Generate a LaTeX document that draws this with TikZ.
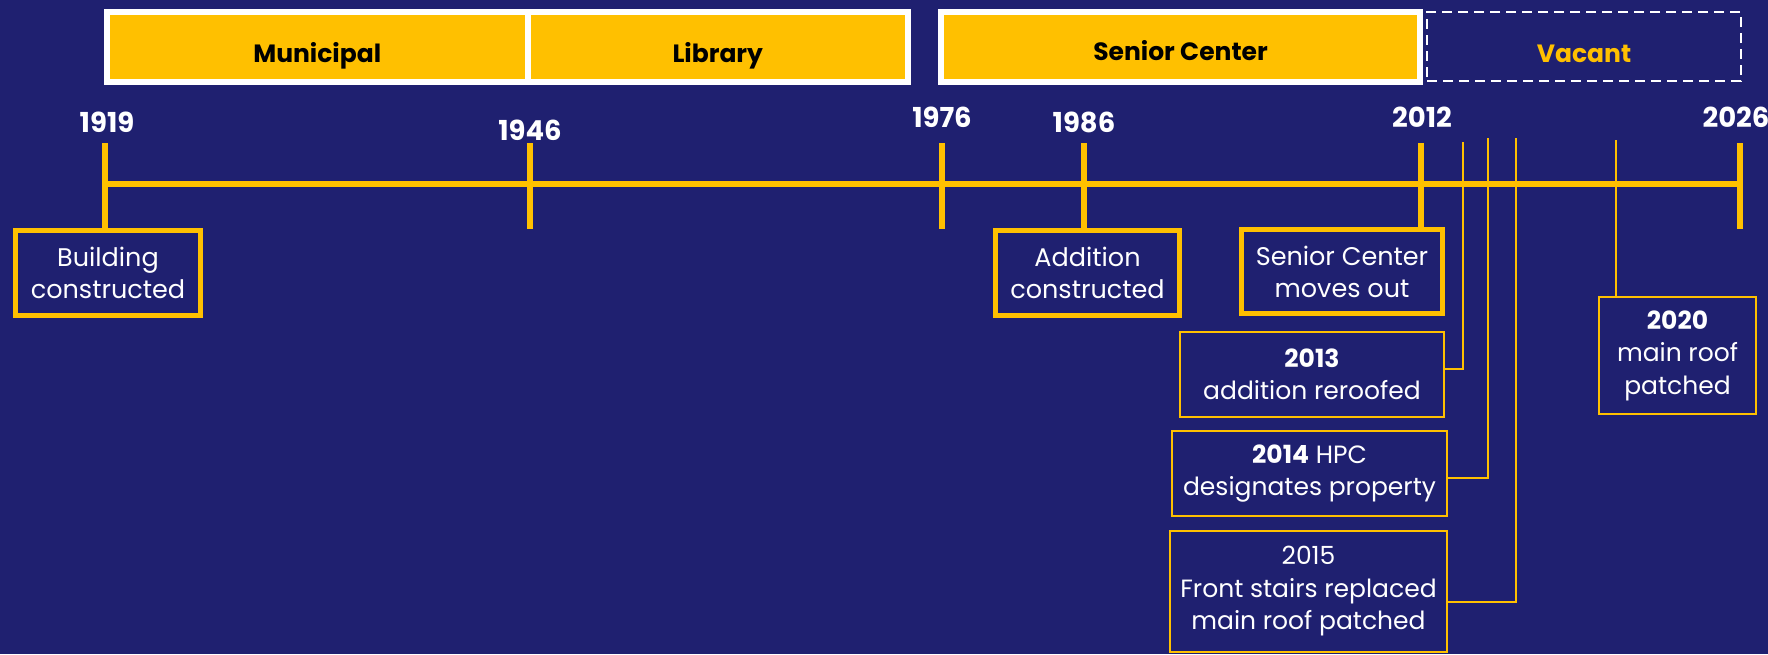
\documentclass[tikz,border=0pt]{standalone}
\usepackage{fontspec}
\setmainfont{Poppins}
\usetikzlibrary{calc}
\definecolor{navy}{RGB}{31,32,112}
\definecolor{gold}{RGB}{255,192,0}

\begin{document}
\begin{tikzpicture}[x=1pt, y=-1pt, text=white,
  bar/.style={draw=white, line width=6pt, fill=gold, text=black, inner sep=0pt,
    minimum height=70pt, text height=30pt, text depth=0pt,
    font=\fontsize{25}{30}\selectfont\bfseries},
  emptybar/.style={draw=white, line width=2.5pt, dash pattern=on 10pt off 6pt,
    text=gold, inner sep=0pt, minimum height=69pt, text height=32pt, text depth=0pt,
    font=\fontsize{25}{30}\selectfont\bfseries},
  year/.style={inner sep=0pt, font=\fontsize{27.5}{30}\selectfont\bfseries},
  event/.style={draw=gold, line width=5pt, fill=navy, align=center, inner sep=0pt,
    minimum height=85pt, font=\fontsize{25.5}{32}\selectfont},
  note/.style={draw=gold, line width=1.5pt, align=center, inner sep=0pt,
    font=\fontsize{25}{32.5}\selectfont},
  axis/.style={draw=gold, line width=5.5pt},
  lead/.style={draw=gold, line width=2.5pt}]

  % canvas
  \fill[navy] (0,0) rectangle (1768,654);
  \useasboundingbox (0,0) rectangle (1768,654);

  % use bars
  \node[bar, minimum width=420.5pt] (municipal) at (317.25,47) {Municipal};
  \node[bar, minimum width=380.5pt] (library)   at (717.75,47) {Library};
  \node[bar, minimum width=479pt, text height=26pt] (senior) at (1180.5,47) {Senior Center};
  \node[emptybar, minimum width=314pt] (vacant) at (1584,46.5) {Vacant};

  % years
  \node[year] (y1919) at (107,122) {1919};
  \node[year] (y1946) at (530,130) {1946};
  \node[year] (y1976) at (942,117) {1976};
  \node[year] (y1986) at (1084,122) {1986};
  \node[year] (y2012) at (1422,117) {2012};
  \node[year] (y2026) at (1736,117) {2026};

  % milestones
  \node[event, minimum width=185pt] (built)  at (108,273)    {Building\\constructed};
  \node[event, minimum width=184pt] (added)  at (1087.5,273) {Addition\\constructed};
  \node[event, minimum width=201pt, minimum height=84pt] (moved) at (1342,271.5) {Senior Center\\moves out};

  \node[note, minimum width=264pt, minimum height=85pt]  (e2013) at (1312,374.5)   {\textbf{2013}\\addition reroofed};
  \node[note, minimum width=275pt, minimum height=85pt]  (e2014) at (1309.5,473.5) {\textbf{2014} HPC\\designates property};
  \node[note, minimum width=277pt, minimum height=121pt] (e2015) at (1308.5,591.5) {2015\\Front stairs replaced\\main roof patched};
  \node[note, minimum width=157pt, minimum height=117pt] (e2020) at (1677.5,355.5) {\textbf{2020}\\main roof\\patched};

  % tick tops
  \coordinate (t1919) at (105,143);
  \coordinate (t1946) at (530,143);
  \coordinate (t1976) at (942,143);
  \coordinate (t1986) at (1084,143);
  \coordinate (t2012) at (1421,143);
  \coordinate (t2026) at (1740,143);
  \coordinate (t2013) at (1463,142);
  \coordinate (t2014) at (1488,138);
  \coordinate (t2015) at (1516,138);
  \coordinate (t2020) at (1616,140);

  % timeline
  \draw[axis] (105,184) -- (1740,184);
  \draw[axis] (t1919) -- (t1919 |- built.north);
  \draw[axis] (t1946) -- ++(0,86);
  \draw[axis] (t1976) -- ++(0,86);
  \draw[axis] (t1986) -- (t1986 |- added.north);
  \draw[axis] (t2012) -- (t2012 |- moved.north);
  \draw[axis] (t2026) -- ++(0,86);

  % leaders
  \draw[lead] (t2013) |- ($(e2013.east)+(0,-5.5)$);
  \draw[lead] (t2014) |- ($(e2014.east)+(0,4.5)$);
  \draw[lead] (t2015) |- ($(e2015.east)+(0,10.5)$);
  \draw[lead] (t2020) -- (t2020 |- e2020.north);
\end{tikzpicture}
\end{document}
